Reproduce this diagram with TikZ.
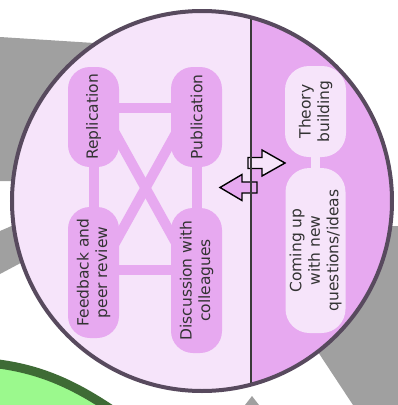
\documentclass[tikz,border=0pt]{standalone}
\usepackage{fontspec}
\setmainfont{DejaVu Sans}
\usetikzlibrary{calc}
\pgfdeclarelayer{bg}
\pgfsetlayers{bg,main}
\definecolor{lav}{HTML}{F6E4FA}
\definecolor{orc}{HTML}{E7A9F0}
\definecolor{rim}{HTML}{584A5E}
\definecolor{divc}{HTML}{3A3A3A}
\definecolor{gry}{HTML}{A0A0A0}
\definecolor{grn}{HTML}{9BF98D}
\definecolor{dkgrn}{HTML}{3E6B35}
\definecolor{txt}{HTML}{333333}
\begin{document}
\begin{tikzpicture}[x=1pt,y=-1pt,
  box/.style={rotate=90, align=center, inner sep=0pt, text=txt,
    font=\fontsize{15.5}{18.5}\selectfont},
  lbox/.style={box, fill=orc, rounded corners=22pt},
  rbox/.style={box, fill=lav, rounded corners=24pt},
  link/.style={line width=10pt, draw=orc},
  rlink/.style={line width=9pt, draw=lav},
  blockarrow/.style={draw=black, line width=1.4pt, line join=miter}]
\useasboundingbox (0,0) rectangle (398,405);
\coordinate (c0) at (202,201);
\begin{pgfonlayer}{bg}
  \fill[white] (0,0) rectangle (398,405);
  \fill[gry] (0,37) -- (110,44) -- (110,181) -- (0,181) -- cycle;
  \fill[gry] (0,231) -- (30,218) -- (30,258) -- (0,274) -- cycle;
  \fill[gry] (291,311) -- (353,405) -- (398,405) -- (398,226) -- (360,226) -- cycle;
  \fill[gry] (252,396) -- (259,405) -- (245,405) -- cycle;
  \draw[line width=9pt, draw=dkgrn, fill=grn] (-10,363) .. controls (40,368) and (75,385) .. (115,412) -- (-10,412) -- cycle;
  \fill[lav] (c0) circle[radius=190];
  \begin{scope}
    \clip (c0) circle[radius=190];
    \fill[orc] (251,0) rectangle (400,405);
  \end{scope}
\end{pgfonlayer}
% nodes
\node[lbox, minimum width=100pt, minimum height=51pt] (rep) at (93.5,117) {Replication};
\node[lbox, minimum width=100pt, minimum height=51pt] (pub) at (196.5,117) {Publication};
\node[lbox, minimum width=131pt, minimum height=51pt] (fb) at (93.5,272.5) {Feedback and\\peer review};
\node[lbox, minimum width=145pt, minimum height=51pt] (disc) at (196.5,280.5) {Discussion with\\colleagues};
\node[rbox, minimum width=91pt, minimum height=61pt] (th) at (315.5,111.5) {Theory\\building};
\node[rbox, minimum width=165pt, minimum height=60pt] (cu) at (315.5,250.5) {Coming up\\with new\\questions/ideas};
% links
\begin{pgfonlayer}{bg}
  \draw[link] ($(rep)+(0,-9)$) -- ($(pub)+(0,-9)$);
  \draw[link] (rep) -- (fb);
  \draw[link] (pub) -- (disc);
  \coordinate (fbl) at ($(fb)+(0,-2.5)$);
  \draw[link] (fbl) -- (fbl -| disc);
  \draw[link] ($(rep)+(16.3,6.6)$) -- ($(disc)+(-15.3,-28.1)$);
  \draw[link] ($(pub)+(-15.3,6.6)$) -- ($(fb)+(16.3,-20.1)$);
  \draw[rlink] (th) -- (cu);
\end{pgfonlayer}
% exchange arrows
\draw[blockarrow, fill=lav] (248,157.5) -- (262,157.5) -- (262,150) -- (285,163) -- (262,176) -- (262,168.5) -- (248,168.5) -- cycle;
\draw[blockarrow, fill=orc] (257,182) -- (242,182) -- (242,174.5) -- (220,187.5) -- (242,200.5) -- (242,193) -- (257,193) -- cycle;
% divider
\begin{scope}
  \clip (c0) circle[radius=190];
  \draw[divc, line width=2.5pt] (251,0) -- (251,405);
\end{scope}
% rim
\draw[rim, line width=4pt] (c0) circle[radius=190];
\end{tikzpicture}
\end{document}
